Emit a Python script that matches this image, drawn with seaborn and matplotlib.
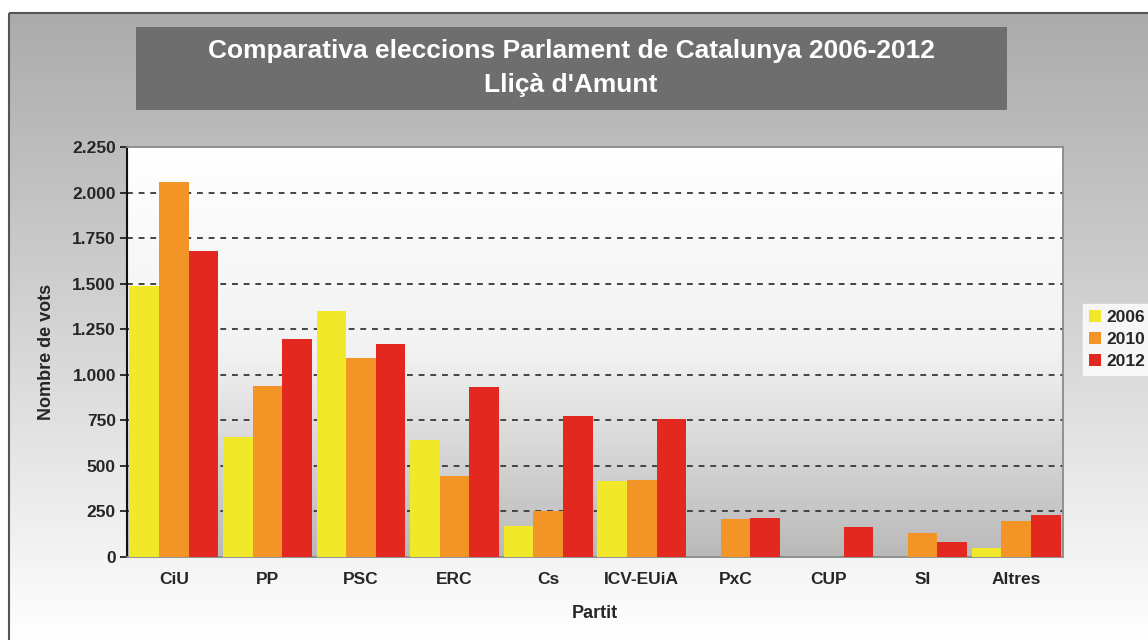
import numpy as np
import pandas as pd
import matplotlib
matplotlib.use('Agg')
import matplotlib.pyplot as plt
import seaborn as sns
from matplotlib.colors import LinearSegmentedColormap
from matplotlib.patches import Rectangle
from matplotlib.ticker import FuncFormatter

# Dades llegides del gràfic
partits = ['CiU', 'PP', 'PSC', 'ERC', 'Cs', 'ICV-EUiA', 'PxC', 'CUP', 'SI', 'Altres']
anys = ['2006', '2010', '2012']
vots_2006 = [1485, 661, 1349, 640, 171, 416, 0, 0, 0, 50]
vots_2010 = [2060, 938, 1091, 445, 254, 425, 206, 0, 134, 200]
vots_2012 = [1682, 1194, 1170, 931, 773, 758, 215, 166, 85, 230]
colors = ['#f2e82a', '#f39427', '#e3291f']

df = pd.DataFrame({
    'Partit': partits * 3,
    'Any': np.repeat(anys, len(partits)),
    'Vots': vots_2006 + vots_2010 + vots_2012,
})

sns.set_style('white')
plt.rcParams['font.family'] = ['Liberation Sans', 'DejaVu Sans']

fig = plt.figure(figsize=(11.48, 6.4), dpi=100)

# fons exterior amb degradat gris
bg = fig.add_axes([0, 0, 1, 1], zorder=-10)
grad = np.linspace(0, 1, 256).reshape(-1, 1)
cmap_bg = LinearSegmentedColormap.from_list('bg', ['#ababab', '#d4d4d4', '#ffffff'])
bg.imshow(grad, aspect='auto', cmap=cmap_bg, extent=[9, 1148, 640, 13], origin='upper')
bg.set_xlim(0, 1148)
bg.set_ylim(640, 0)
bg.add_patch(Rectangle((9, 13), 1160, 640, fill=False, edgecolor='#555555', lw=1.5))
bg.add_patch(Rectangle((136, 27), 871, 83, facecolor='#6e6e6e', edgecolor='none'))
bg.axis('off')

ax = fig.add_axes([127 / 1148, 1 - 557 / 640, 936 / 1148, 410 / 640])
sns.barplot(data=df, x='Partit', y='Vots', hue='Any', palette=colors,
            width=0.95, saturation=1, linewidth=0, ax=ax, zorder=3, legend=True)

# fons de l'àrea del gràfic (blanc a dalt, gris a baix)
cmap_ax = LinearSegmentedColormap.from_list('ax', ['#ffffff', '#f2f2f2', '#b9b9b9'])
ax.imshow(grad, aspect='auto', cmap=cmap_ax, extent=[-0.5, 9.5, 0, 2250],
          origin='upper', zorder=0)
ax.set_xlim(-0.5, 9.5)
ax.set_ylim(0, 2250)

ax.set_yticks(np.arange(0, 2251, 250))
ax.yaxis.set_major_formatter(FuncFormatter(lambda v, p: f'{int(v):,}'.replace(',', '.')))
for yv in range(250, 2001, 250):
    ax.axhline(yv, color='#444444', ls=(0, (3, 3)), lw=1.4, zorder=1)

for s in ['top', 'right', 'bottom']:
    ax.spines[s].set_color('#8a8a8a')
    ax.spines[s].set_linewidth(1.3)
ax.spines['left'].set_color('#111111')
ax.spines['left'].set_linewidth(1.5)
ax.tick_params(axis='y', length=5, width=1.2, color='#111111', direction='out', left=True,
               labelsize=12.5, pad=3)
ax.tick_params(axis='x', length=0, labelsize=12.5, pad=11)
for lbl in ax.get_xticklabels() + ax.get_yticklabels():
    lbl.set_fontweight('bold')

ax.set_xlabel('Partit', fontsize=13, fontweight='bold', labelpad=13)
ax.set_ylabel('Nombre de vots', fontsize=13, fontweight='bold', labelpad=12)

leg = ax.legend(loc='center left', bbox_to_anchor=(1.012, 0.53), frameon=True,
                fancybox=False, edgecolor='white', handlelength=0.7, handleheight=0.7,
                handletextpad=0.3, borderpad=0.35, labelspacing=0.4,
                prop={'weight': 'bold', 'size': 12.5})
leg.get_frame().set_facecolor('white')

fig.text(571 / 1148, 1 - 51 / 640, 'Comparativa eleccions Parlament de Catalunya 2006-2012',
         ha='center', va='center', color='white', fontsize=19, fontweight='bold')
fig.text(571 / 1148, 1 - 85 / 640, "Lliçà d'Amunt",
         ha='center', va='center', color='white', fontsize=19, fontweight='bold')

fig.savefig('out.png', dpi=100)
